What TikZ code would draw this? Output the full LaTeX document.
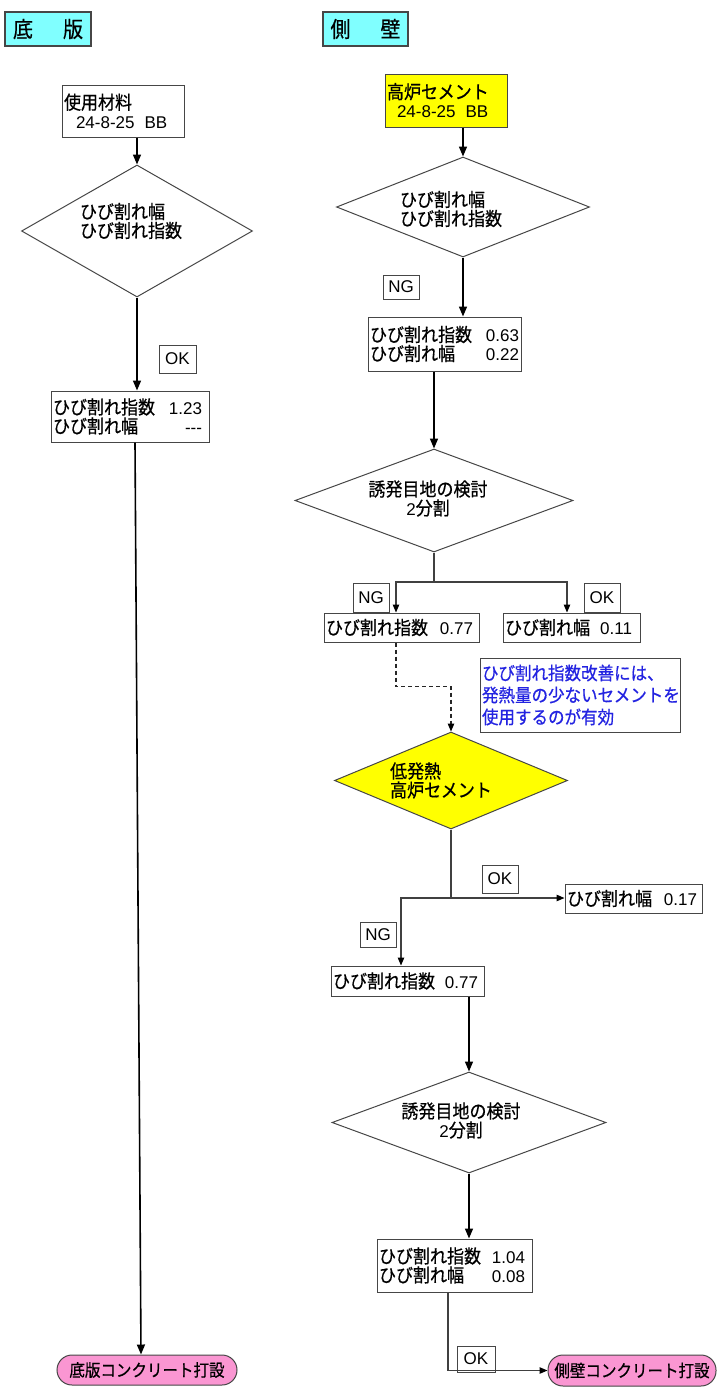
\documentclass[tikz,border=0pt]{standalone}
\usepackage{fontspec}
\setmainfont{Liberation Sans}
\newfontfamily\jp{Noto Sans CJK JP}[Scale=1.1,FakeStretch=0.91,FakeBold=0.6]
\usetikzlibrary{shapes.geometric,arrows.meta}
\newcommand\J[1]{{\jp #1}}
\newcommand\LR[2]{\makebox[\linewidth]{#1\hfill#2}}
\definecolor{ttlcyan}{RGB}{128,255,255}
\definecolor{pinkfill}{RGB}{250,150,210}
\definecolor{notebl}{RGB}{35,35,225}
\definecolor{boxc}{RGB}{70,70,70}
\definecolor{yel}{RGB}{255,255,0}
\begin{document}
\begin{tikzpicture}[x=1pt,y=-1pt,
  txt/.style={font=\fontsize{17}{19}\selectfont},
  box/.style={txt,draw=boxc,line width=1pt,fill=white,rectangle,inner xsep=2pt,inner ysep=0pt,align=left},
  lbl/.style={txt,draw=boxc,line width=1pt,fill=white,rectangle,inner sep=0pt},
  ttl/.style={font=\fontsize{20}{24}\selectfont,draw=boxc,line width=1.2pt,fill=ttlcyan,rectangle,inner sep=0pt},
  dia/.style={shape=diamond,draw=boxc,line width=1pt,inner sep=0pt,aspect=2.5},
  dtext/.style={txt,inner sep=0pt},
  pill/.style={font=\fontsize{15.5}{18}\selectfont,draw=boxc,line width=1pt,fill=pinkfill,rectangle,rounded corners=15pt,inner sep=0pt},
  note/.style={font=\fontsize{16.5}{22}\selectfont,text=notebl,draw=boxc,line width=1pt,fill=white,rectangle,inner xsep=2pt,inner ysep=0pt,align=left},
  arrB/.style={line width=1.6pt,black,-{Triangle[length=10pt,width=8pt]}},
  arrS/.style={line width=1.1pt,black!75,-{Triangle[length=8pt,width=6.5pt,color=black]}},
  thinl/.style={line width=1.1pt,black!75},
  dsh/.style={line width=1.1pt,black!85,dash pattern=on 4pt off 3pt,-{Triangle[length=8pt,width=6.5pt,color=black]}}
]
\useasboundingbox (0,0) rectangle (717,1387);

% titles
\node[ttl,minimum width=86pt,minimum height=34pt] (tL) at (48,29) {\J{底}\hspace{30pt}\J{版}};
\node[ttl,minimum width=85pt,minimum height=34pt] (tR) at (365.5,29) {\J{側}\hspace{30pt}\J{壁}};

% left column
\node[box,text width=118pt,minimum height=52pt] (mat) at (123,111) {\J{使用材料}\\\hspace*{12pt}24-8-25\hspace{10pt}BB};
\node[dia,minimum width=231pt,minimum height=132pt] (dL) at (137,231) {};
\node[dtext,align=left] (dLt) at ([xshift=-6pt,yshift=10pt]dL.center) {\J{ひび割れ幅}\\\J{ひび割れ指数}};
\node[lbl,minimum width=37pt,minimum height=28pt] (okL) at (177.5,359) {OK};
\node[box,text width=154pt,minimum height=51pt] (b123) at (130,416.5) {\LR{\J{ひび割れ指数}}{1.23\hspace{5pt}}\\\LR{\J{ひび割れ幅}}{-{}-{}-\hspace{5pt}}};
\node[pill,minimum width=180pt,minimum height=30pt] (pillL) at (147,1370) {\J{底版コンクリート打設}};

% right column
\node[box,fill=yel,text width=118pt,minimum height=53pt] (yb) at (446,100.5) {\J{高炉セメント}\\\hspace*{10pt}24-8-25\hspace{10pt}BB};
\node[dia,minimum width=253pt,minimum height=100pt] (dR1) at (463,207) {};
\node[dtext,align=left] (dR1t) at ([xshift=-12pt,yshift=-2pt]dR1.center) {\J{ひび割れ幅}\\\J{ひび割れ指数}};
\node[lbl,minimum width=36pt,minimum height=24pt] (ng1) at (401,287) {NG};
\node[box,text width=149pt,minimum height=54pt] (b063) at (444.5,344) {\LR{\J{ひび割れ指数}}{0.63}\\\LR{\J{ひび割れ幅}}{0.22}};
\node[dia,minimum width=278pt,minimum height=103pt] (dR2) at (434,500.5) {};
\node[dtext,align=center] (dR2t) at ([xshift=-6pt,yshift=2pt]dR2.center) {\J{誘発目地の検討}\\2\J{分割}};
\node[lbl,minimum width=36pt,minimum height=29pt] (ng2) at (371,597.5) {NG};
\node[lbl,minimum width=36pt,minimum height=29pt] (ok2) at (602,597.5) {OK};
\node[box,text width=151pt,minimum height=29pt] (b077a) at (401.5,627.5) {\LR{\J{ひび割れ指数}}{0.77\hspace{4pt}}};
\node[box,text width=133pt,minimum height=29pt] (b011) at (571.5,627.5) {\LR{\J{ひび割れ幅}}{0.11\hspace{6pt}}};
\node[note,text width=196pt,minimum height=74pt] (nt) at (580,695) {\J{ひび割れ指数改善には、}\\\J{発熱量の少ないセメントを}\\\J{使用するのが有効}};
\node[dia,fill=yel,minimum width=233pt,minimum height=97pt] (dY) at (451,780.5) {};
\node[dtext,align=left] (dYt) at ([xshift=-10pt]dY.center) {\J{低発熱}\\\J{高炉セメント}};
\node[lbl,minimum width=36pt,minimum height=28pt] (ok3) at (500,879) {OK};
\node[box,text width=133pt,minimum height=29pt] (b017) at (633.5,898.5) {\LR{\J{ひび割れ幅}}{0.17\hspace{3pt}}};
\node[lbl,minimum width=36pt,minimum height=25pt] (ng3) at (378,934.5) {NG};
\node[box,text width=149pt,minimum height=30pt] (b077b) at (407.5,981) {\LR{\J{ひび割れ指数}}{0.77\hspace{4pt}}};
\node[dia,minimum width=274pt,minimum height=101pt] (dR3) at (469,1122.5) {};
\node[dtext,align=center] (dR3t) at ([xshift=-8pt,yshift=2pt]dR3.center) {\J{誘発目地の検討}\\2\J{分割}};
\node[box,text width=151pt,minimum height=53pt] (b104) at (454.5,1265.5) {\LR{\J{ひび割れ指数}}{1.04\hspace{5pt}}\\\LR{\J{ひび割れ幅}}{0.08\hspace{5pt}}};
\node[lbl,minimum width=38pt,minimum height=26pt] (ok4) at (476,1359) {OK};
\node[pill,minimum width=168pt,minimum height=31pt] (pillR) at (632,1370.5) {\J{側壁コンクリート打設}};

% connectors left
\draw[arrB] (mat.south -| dL.north) -- (dL.north);
\draw[arrB] (dL.south) -- (dL.south |- b123.north);
\draw[arrB] ([xshift=5pt]b123.south) -- ([xshift=-6pt]pillL.north);

% connectors right
\draw[arrB] (yb.south -| dR1.north) -- (dR1.north);
\draw[arrB] (dR1.south) -- (dR1.south |- b063.north);
\draw[arrB] (b063.south -| dR2.north) -- (dR2.north);
\coordinate (j1) at (434,582);
\draw[thinl] (dR2.south) -- (j1);
\draw[arrS] (j1) -| ([xshift=-5.5pt]b077a.north);
\draw[arrS] (j1) -| ([xshift=-4.5pt]b011.north);
\draw[dsh] ([xshift=-5.5pt]b077a.south) -- ++(0,44) -| (dY.north);
\coordinate (j2) at (451,898);
\draw[thinl] (dY.south) -- (j2);
\draw[arrS] (j2) -- (j2 -| b017.west);
\draw[arrS] (j2) -| ([xshift=-6.5pt]b077b.north);
\draw[arrB] (b077b.south -| dR3.north) -- (dR3.north);
\draw[arrB] (dR3.south) -- (dR3.south |- b104.north);
\draw[arrS] ([xshift=-6.5pt]b104.south) |- (pillR.west);
\end{tikzpicture}
\end{document}
